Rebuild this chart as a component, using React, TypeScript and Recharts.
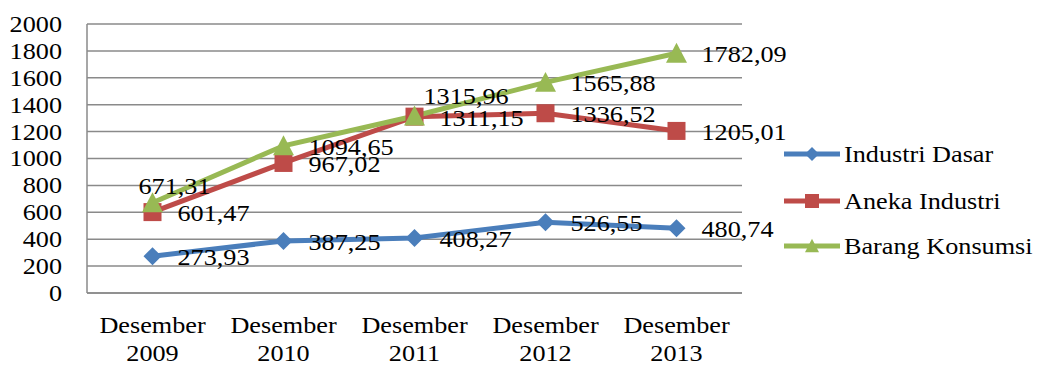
import { CartesianGrid, LabelList, Line, LineChart, XAxis, YAxis } from "recharts";

const years = ["2009", "2010", "2011", "2012", "2013"];
const industriDasar = [273.93, 387.25, 408.27, 526.55, 480.74];
const anekaIndustri = [601.47, 967.02, 1311.15, 1336.52, 1205.01];
const barangKonsumsi = [671.31, 1094.65, 1315.96, 1565.88, 1782.09];
const yTicks = [0, 200, 400, 600, 800, 1000, 1200, 1400, 1600, 1800, 2000];

const data = years.map((y, i) => ({
  period: `Desember ${y}`,
  dasar: industriDasar[i],
  aneka: anekaIndustri[i],
  barang: barangKonsumsi[i],
}));

const BLUE = "#4A7EBB";
const RED = "#BE4B48";
const GREEN = "#98B954";
const GRID = "#8a8a8a";
const FONT = "'Liberation Serif', 'Times New Roman', serif";
const FS = 23;
const SX = 1.14; // glyphs are set a bit wide

// label offsets from the point, [dx, dy]
const right: [number, number] = [25, 0];
const dasarShift = [right, right, right, right, right];
const anekaShift = [right, right, right, right, right];
const barangShift: [number, number][] = [[-14, -18], right, [9, -21], right, right];

function SText({ x, y, anchor = "start", children }: any) {
  return (
    <text
      transform={`translate(${x},${y}) scale(${SX},1)`}
      textAnchor={anchor}
      dominantBaseline="central"
      fontFamily={FONT}
      fontSize={FS}
      fill="#000"
    >
      {children}
    </text>
  );
}

const fmt = (v: number) => v.toFixed(2).replace(".", ",");

function diamond(cx: number, cy: number, r: number, fill: string, key?: any) {
  return <path key={key} d={`M${cx},${cy - r}L${cx + r},${cy}L${cx},${cy + r}L${cx - r},${cy}Z`} fill={fill} />;
}
function square(cx: number, cy: number, s: number, fill: string, key?: any) {
  return <rect key={key} x={cx - s / 2} y={cy - s / 2} width={s} height={s} fill={fill} />;
}
function triangle(cx: number, cy: number, s: number, fill: string, key?: any) {
  const h = s * 0.9;
  return <path key={key} d={`M${cx},${cy - h / 2 - 1}L${cx + s / 2},${cy + h / 2}L${cx - s / 2},${cy + h / 2}Z`} fill={fill} />;
}

const makeLabel = (shift: [number, number][]) => (p: any) => {
  const [dx, dy] = shift[p.index] ?? right;
  return (
    <g key={`l${p.index}`}>
      <SText x={p.x + dx} y={p.y + dy + 1}>{fmt(p.value)}</SText>
    </g>
  );
};

const XTick = ({ x, y, payload }: any) => {
  const [word, year] = String(payload.value).split(" ");
  return (
    <g>
      <SText x={x} y={y + 32} anchor="middle">{word}</SText>
      <SText x={x} y={y + 60} anchor="middle">{year}</SText>
    </g>
  );
};

const YTick = ({ x, y, payload }: any) => (
  <SText x={x} y={y} anchor="end">{payload.value}</SText>
);

const legendItems = [
  { name: "Industri Dasar", color: BLUE, y: 154, mark: (cx: number, cy: number) => diamond(cx, cy, 7, BLUE) },
  { name: "Aneka Industri", color: RED, y: 201, mark: (cx: number, cy: number) => square(cx, cy, 14, RED) },
  { name: "Barang Konsumsi", color: GREEN, y: 246, mark: (cx: number, cy: number) => triangle(cx, cy, 14, GREEN) },
];

export default function App() {
  return (
    <div style={{ position: "absolute", left: 0, top: 0, width: 1038, height: 365, background: "#fff" }}>
      <LineChart width={1038} height={365} data={data} margin={{ top: 24, right: 296, bottom: 0, left: 0 }}>
        <CartesianGrid vertical={false} stroke={GRID} strokeWidth={1.5} />
        <XAxis
          dataKey="period"
          height={72}
          padding={{ left: 65.5, right: 65.5 }}
          axisLine={{ stroke: GRID, strokeWidth: 1.5 }}
          tickLine={false}
          tickSize={0}
          tickMargin={0}
          interval={0}
          tick={<XTick />}
        />
        <YAxis
          width={87}
          domain={[0, 2000]}
          ticks={yTicks}
          interval={0}
          axisLine={{ stroke: GRID, strokeWidth: 1.5 }}
          tickLine={false}
          tickSize={0}
          tickMargin={25}
          tick={<YTick />}
        />
        <Line
          dataKey="dasar"
          stroke={BLUE}
          strokeWidth={5}
          isAnimationActive={false}
          dot={(p: any) => diamond(p.cx, p.cy, 9, BLUE, `d${p.index}`)}
        >
          <LabelList dataKey="dasar" content={makeLabel(dasarShift)} />
        </Line>
        <Line
          dataKey="aneka"
          stroke={RED}
          strokeWidth={5}
          isAnimationActive={false}
          dot={(p: any) => square(p.cx, p.cy, 18, RED, `s${p.index}`)}
        >
          <LabelList dataKey="aneka" content={makeLabel(anekaShift)} />
        </Line>
        <Line
          dataKey="barang"
          stroke={GREEN}
          strokeWidth={5}
          isAnimationActive={false}
          dot={(p: any) => triangle(p.cx, p.cy, 21, GREEN, `t${p.index}`)}
        >
          <LabelList dataKey="barang" content={makeLabel(barangShift)} />
        </Line>
      </LineChart>
      <svg width={1038} height={365} style={{ position: "absolute", left: 0, top: 0, pointerEvents: "none" }}>
        {legendItems.map((it) => (
          <g key={it.name}>
            <line x1={784} x2={840} y1={it.y} y2={it.y} stroke={it.color} strokeWidth={5} />
            {it.mark(812, it.y)}
            <SText x={844} y={it.y}>{it.name}</SText>
          </g>
        ))}
      </svg>
    </div>
  );
}
